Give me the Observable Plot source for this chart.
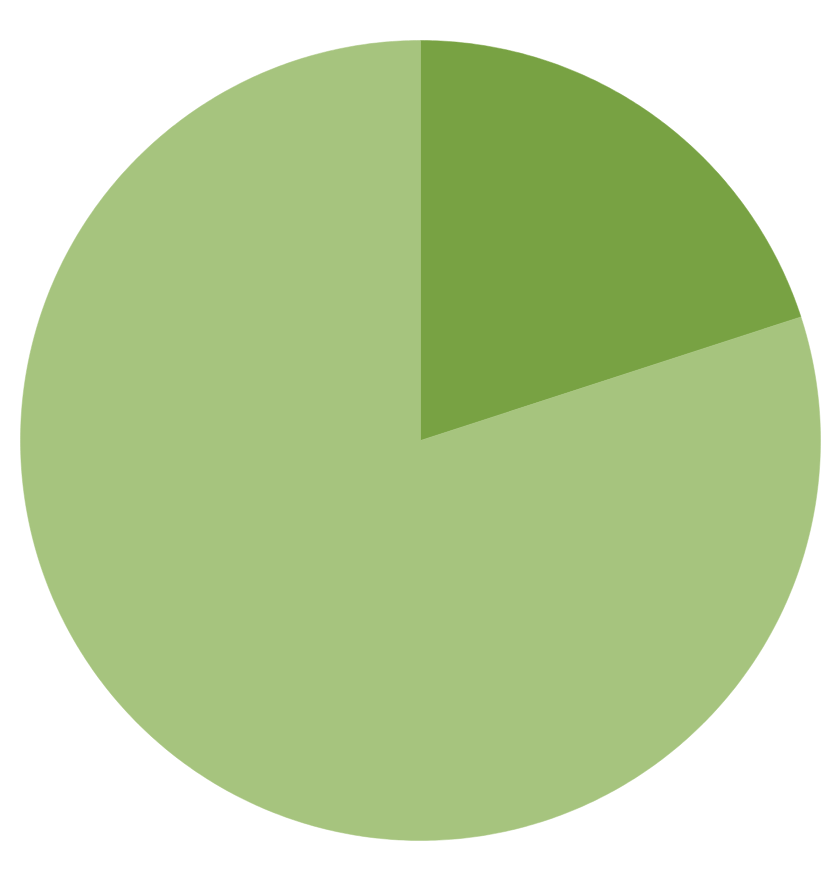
<!DOCTYPE html>
<html>
<head>
<meta charset="utf-8">
<script src="https://cdn.jsdelivr.net/npm/d3@7"></script>
<script src="https://cdn.jsdelivr.net/npm/@observablehq/plot@0.6"></script>
<style>
  html, body { margin: 0; padding: 0; background: #ffffff; }
  #chart { width: 840px; height: 880px; }
</style>
</head>
<body>
<div id="chart"></div>
<script>
const categories = ["A", "B"];
const values = [20, 80];
const colors = ["#78a243", "#a6c47e"];

const pie = d3.pie().sort(null).value(d => d)(values);
const pts = [];
pie.forEach((s, i) => {
  const n = Math.max(2, Math.ceil((s.endAngle - s.startAngle) / 0.01));
  pts.push({cat: categories[i], x: 0, y: 0});
  for (let k = 0; k <= n; k++) {
    const a = s.startAngle + (s.endAngle - s.startAngle) * k / n;
    pts.push({cat: categories[i], x: Math.sin(a), y: Math.cos(a)});
  }
  pts.push({cat: categories[i], x: 0, y: 0});
});

const chart = Plot.plot({
  width: 840,
  height: 880,
  marginLeft: 20,
  marginRight: 20,
  marginTop: 40,
  marginBottom: 40,
  x: {domain: [-1, 1], axis: null},
  y: {domain: [-1, 1], axis: null},
  color: {domain: categories, range: colors},
  marks: [
    Plot.line(pts, {x: "x", y: "y", z: "cat", fill: "cat", stroke: "cat", strokeWidth: 0.5, curve: "linear"})
  ]
});
document.getElementById("chart").appendChild(chart);
</script>
</body>
</html>
